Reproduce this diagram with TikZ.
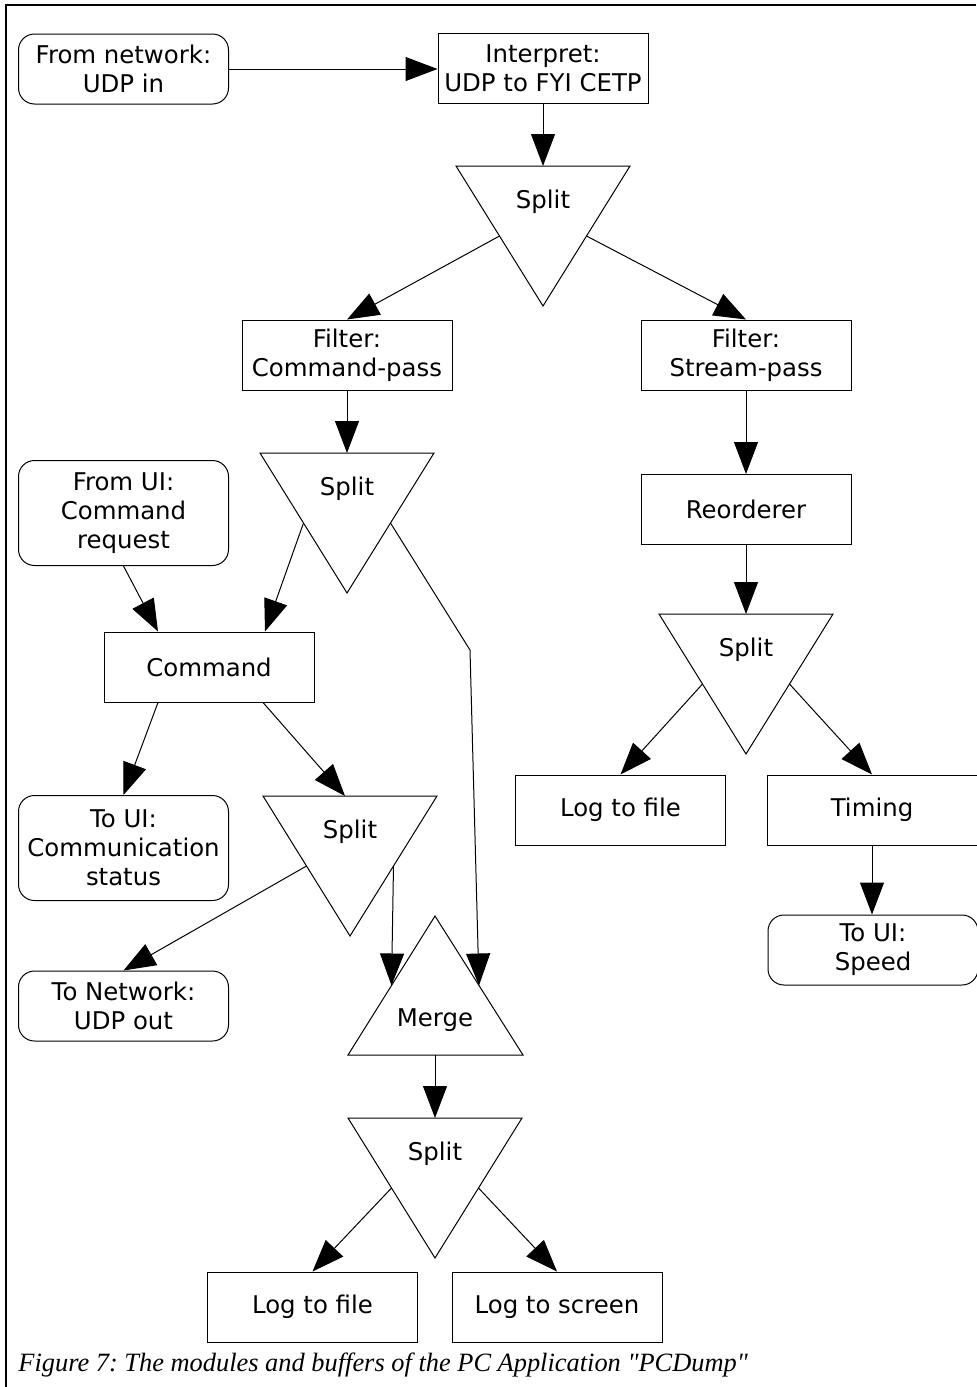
\documentclass[tikz,border=0pt]{standalone}
\usepackage{fontspec}
\setmainfont{DejaVu Sans}
\newfontfamily\capfont{Liberation Serif}
\usetikzlibrary{arrows.meta,calc}
\frenchspacing

\tikzset{
  box/.style={draw, line width=0.5pt, minimum width=105pt, minimum height=35pt,
    align=center, inner sep=0pt, font=\fontsize{12.2}{14.5}\selectfont},
  term/.style={box, rounded corners=8pt},
  tall/.style={minimum height=52.5pt},
  flow/.style={draw, line width=0.5pt, -{Triangle[length=16pt,width=12pt]}},
  tri/.style={draw, line width=0.5pt, line join=miter},
  trilabel/.style={font=\fontsize{12.2}{14}\selectfont, inner sep=0pt},
  caption/.style={font=\capfont\itshape\fontsize{13.2}{15}\selectfont, inner sep=0pt, anchor=base west},
}

% Downward "Split" triangle: name, centre x, top y, label
\newcommand\splitshape[4]{%
  \draw[tri] (#2-87,#3) -- (#2+87,#3) -- (#2,#3+140) -- cycle;
  \coordinate (#1-top) at (#2,#3);
  \coordinate (#1-l) at (#2-43.5,#3+70);
  \coordinate (#1-r) at (#2+43.5,#3+70);
  \node[trilabel] (#1) at (#2,#3+36) {#4};
}

\begin{document}
\begin{tikzpicture}[x=0.5pt,y=-0.5pt]
\useasboundingbox (0,0) rectangle (976,1387);

% page frame
\draw[line width=0.7pt] (976,5) -- (6,5) -- (6,1387);

% input side
\node[term] (fromnet) at (123.5,69) {From network:\\UDP in};
\node[box]  (interp)  at (543,68.5) {Interpret:\\UDP to FYI CETP};
\splitshape{s1}{543}{166}{Split}

\node[box] (fcmd) at (347,355) {Filter:\\Command-pass};
\node[box] (fstr) at (746,355) {Filter:\\Stream-pass};

% command branch
\splitshape{s2}{347}{453}{Split}
\node[term,tall] (fromui) at (123.5,513) {From UI:\\Command\\request};
\node[box] (cmd) at (209,667) {Command};
\node[term,tall] (comm) at (123.5,848) {To UI:\\Communication\\status};
\splitshape{s3}{350}{796}{Split}
\node[term] (udpout) at (123.5,1006) {To Network:\\UDP out};
\coordinate (bend) at (470,650);

% merge and logging
\draw[tri] (348,1055) -- (523,1055) -- (435,916) -- cycle;
\coordinate (merge-l) at (391.5,985.5);
\coordinate (merge-r) at (479,985.5);
\coordinate (merge-bot) at (435,1055);
\node[trilabel] (merge) at (435,1020) {Merge};
\splitshape{s4}{435}{1118}{Split}
\node[box] (logfile2) at (312.5,1307) {Log to file};
\node[box] (logscr) at (557,1307) {Log to screen};

% stream branch
\node[box] (reord) at (746,509.5) {Reorderer};
\splitshape{s5}{746}{614}{Split}
\node[box] (logfile1) at (620.5,810) {Log to file};
\node[box] (timing) at (872,810) {Timing};
\node[term] (speed) at (873,950) {To UI:\\Speed};

% connectors
\draw[flow] (fromnet.east) -- (fromnet.east -| interp.west);
\draw[flow] (interp) -- (s1-top);
\draw[flow] (s1-l) -- (fcmd.north);
\draw[flow] (s1-r) -- (fstr.north);
\draw[flow] (fcmd) -- (s2-top);
\draw[flow] (fstr) -- (reord);
\draw[flow] (reord) -- (s5-top);
\draw[flow] (s5-l) -- (logfile1.north);
\draw[flow] (s5-r) -- (timing.north);
\draw[flow] (timing) -- (timing |- speed.north);
\draw[flow] (s2-l) -- ([xshift=28pt]cmd.north);
\draw[flow] (fromui.south) -- ([xshift=-25.5pt]cmd.north);
\draw[flow] ([xshift=-25.5pt]cmd.south) -- (comm.north);
\draw[flow] ([xshift=27pt]cmd.south) -- ([xshift=-2.5pt]s3-top);
\draw[flow] (s3-l) -- (udpout.north);
\draw[flow] (s3-r) -- (merge-l);
\draw[flow] (s2-r) -- (bend) -- (merge-r);
\draw[flow] (merge-bot) -- (s4-top);
\draw[flow] (s4-l) -- (logfile2.north);
\draw[flow] (s4-r) -- (logscr.north);

\node[caption] (cap) at (18,1371) {Figure 7: The modules and buffers of the PC Application "PCDump"};
\end{tikzpicture}
\end{document}
